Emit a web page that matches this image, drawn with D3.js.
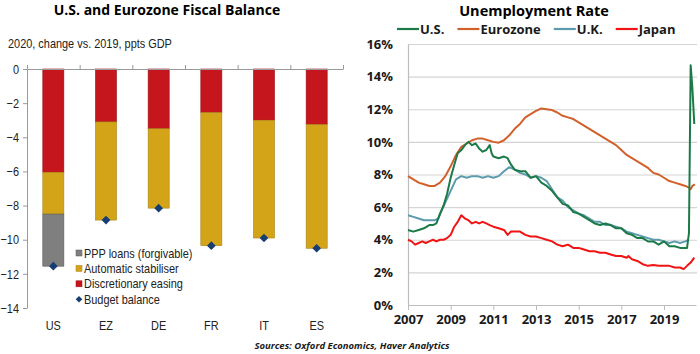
<!DOCTYPE html>
<html>
<head>
<meta charset="utf-8">
<script src="https://cdn.jsdelivr.net/npm/d3@7"></script>
<style>
  body { margin: 0; background: #fff; }
  svg { display: block; }
</style>
</head>
<body>
<svg id="chart" width="700" height="354"></svg>
<script>
// left panel data (ppts GDP, 2020 vs 2019)
const countries = ['US', 'EZ', 'DE', 'FR', 'IT', 'ES'];
const discretionary = [6.05, 3.1, 3.5, 2.55, 3.0, 3.25];
const stabiliser = [2.45, 5.75, 4.65, 7.8, 6.9, 7.25];
const pppLoans = [3.05, 0, 0, 0, 0, 0];
const budgetBalance = [-11.55, -8.85, -8.15, -10.35, -9.9, -10.5];
const leftTicks = [0, -2, -4, -6, -8, -10, -12, -14];

// right panel data: [year, rate %]
const usRate = [[2007.0,4.6],[2007.25,4.5],[2007.5,4.6],[2007.75,4.7],[2008.0,4.9],[2008.17,4.9],[2008.33,5.0],
  [2008.5,5.6],[2008.67,6.1],[2008.83,6.8],[2009.0,7.8],[2009.17,8.6],[2009.33,9.3],[2009.5,9.5],[2009.67,9.8],
  [2009.83,10.0],[2010.0,9.8],[2010.17,9.9],[2010.33,9.6],[2010.5,9.4],[2010.67,9.5],[2010.83,9.8],[2010.92,9.3],
  [2011.0,9.1],[2011.25,9.0],[2011.5,9.1],[2011.67,9.0],[2011.83,8.6],[2012.0,8.3],[2012.25,8.2],[2012.5,8.2],
  [2012.75,7.8],[2013.0,7.9],[2013.25,7.5],[2013.5,7.3],[2013.75,7.0],[2014.0,6.6],[2014.25,6.2],[2014.5,6.1],
  [2014.75,5.7],[2015.0,5.6],[2015.25,5.4],[2015.5,5.2],[2015.75,5.0],[2016.0,4.9],[2016.25,5.0],[2016.5,4.9],
  [2016.75,4.7],[2017.0,4.7],[2017.25,4.4],[2017.5,4.3],[2017.75,4.1],[2018.0,4.1],[2018.25,3.9],[2018.5,3.9],
  [2018.75,3.7],[2019.0,3.9],[2019.25,3.6],[2019.5,3.6],[2019.75,3.5],[2020.0,3.5],[2020.08,3.5],[2020.17,4.4],
  [2020.25,14.7],[2020.33,13.3],[2020.42,11.1]];
const ezRate = [[2007.0,7.9],[2007.25,7.7],[2007.5,7.5],[2007.75,7.4],[2008.0,7.3],[2008.25,7.3],[2008.5,7.5],
  [2008.75,7.9],[2009.0,8.5],[2009.25,9.2],[2009.5,9.7],[2009.75,9.9],[2010.0,10.1],[2010.25,10.2],[2010.5,10.2],
  [2010.75,10.1],[2011.0,10.0],[2011.25,9.95],[2011.5,10.1],[2011.75,10.4],[2012.0,10.8],[2012.25,11.1],
  [2012.5,11.5],[2012.75,11.7],[2013.0,11.9],[2013.25,12.05],[2013.5,12.0],[2013.75,11.95],[2014.0,11.8],
  [2014.25,11.6],[2014.5,11.5],[2014.75,11.4],[2015.0,11.2],[2015.25,11.0],[2015.5,10.8],[2015.75,10.6],
  [2016.0,10.4],[2016.25,10.2],[2016.5,10.0],[2016.75,9.8],[2017.0,9.5],[2017.25,9.2],[2017.5,9.0],[2017.75,8.8],
  [2018.0,8.6],[2018.25,8.4],[2018.5,8.1],[2018.75,8.0],[2019.0,7.8],[2019.25,7.6],[2019.5,7.5],[2019.75,7.4],
  [2020.0,7.3],[2020.17,7.2],[2020.25,7.1],[2020.33,7.3],[2020.45,7.4]];
const ukRate = [[2007.0,5.5],[2007.25,5.4],[2007.5,5.3],[2007.75,5.2],[2008.0,5.2],[2008.25,5.2],[2008.42,5.3],
  [2008.58,5.8],[2008.75,6.3],[2009.0,7.0],[2009.25,7.7],[2009.5,7.9],[2009.75,7.8],[2010.0,7.9],[2010.25,7.9],
  [2010.5,7.8],[2010.75,7.9],[2011.0,7.8],[2011.25,7.9],[2011.5,8.2],[2011.75,8.45],[2012.0,8.3],[2012.25,8.1],
  [2012.5,8.0],[2012.75,7.8],[2013.0,7.9],[2013.25,7.8],[2013.5,7.6],[2013.75,7.1],[2014.0,6.6],[2014.25,6.4],
  [2014.5,6.0],[2014.75,5.8],[2015.0,5.6],[2015.25,5.5],[2015.5,5.3],[2015.75,5.1],[2016.0,5.1],[2016.25,4.9],
  [2016.5,4.9],[2016.75,4.8],[2017.0,4.7],[2017.25,4.5],[2017.5,4.4],[2017.75,4.3],[2018.0,4.2],[2018.25,4.1],
  [2018.5,4.0],[2018.75,4.0],[2019.0,3.9],[2019.25,3.8],[2019.5,3.9],[2019.75,3.8],[2020.0,3.9],[2020.17,4.0]];
const jpRate = [[2007.0,4.0],[2007.17,3.9],[2007.33,3.7],[2007.5,3.8],[2007.67,3.9],[2007.83,3.8],[2008.0,3.9],
  [2008.17,4.0],[2008.33,3.9],[2008.5,4.0],[2008.67,4.0],[2008.83,4.1],[2009.0,4.3],[2009.17,4.8],[2009.33,5.1],
  [2009.5,5.5],[2009.67,5.3],[2009.83,5.2],[2010.0,5.0],[2010.17,5.1],[2010.33,5.0],[2010.5,5.1],[2010.67,5.0],
  [2010.83,4.9],[2011.0,4.8],[2011.25,4.7],[2011.5,4.6],[2011.67,4.3],[2011.83,4.5],[2012.0,4.5],[2012.25,4.5],
  [2012.5,4.3],[2012.75,4.2],[2013.0,4.2],[2013.25,4.1],[2013.5,4.0],[2013.75,3.9],[2014.0,3.7],[2014.25,3.6],
  [2014.5,3.7],[2014.75,3.5],[2015.0,3.5],[2015.25,3.4],[2015.5,3.3],[2015.75,3.3],[2016.0,3.2],[2016.25,3.2],
  [2016.5,3.1],[2016.75,3.0],[2017.0,3.0],[2017.25,2.9],[2017.33,3.0],[2017.5,2.8],[2017.75,2.7],[2018.0,2.5],
  [2018.25,2.4],[2018.5,2.45],[2018.75,2.4],[2019.0,2.4],[2019.25,2.4],[2019.5,2.3],[2019.75,2.3],[2019.92,2.2],
  [2020.08,2.4],[2020.25,2.6],[2020.42,2.9]];
const rightYTicks = [0, 2, 4, 6, 8, 10, 12, 14, 16];
const rightXTicks = [2007, 2009, 2011, 2013, 2015, 2017, 2019];

const svg = d3.select('#chart');
const leftFont = '"Liberation Sans", Arial, sans-serif';
const boldFont = '"Open Sans", "DejaVu Sans", sans-serif';

// squeeze Arial-like text so it looks like the narrow face in the original
function condense(sel, k) {
  sel.each(function() {
    const w = this.getComputedTextLength();
    d3.select(this).attr('textLength', w * k).attr('lengthAdjust', 'spacingAndGlyphs');
  });
}

// ---------- left: fiscal balance ----------
svg.append('text')
  .attr('x', 167).attr('y', 15)
  .attr('text-anchor', 'middle')
  .style('font-family', boldFont).style('font-weight', 700).style('font-size', '14px')
  .text('U.S. and Eurozone Fiscal Balance');

svg.append('text')
  .attr('x', 8).attr('y', 48)
  .style('font-family', leftFont).style('font-size', '13px').style('fill', '#222')
  .text('2020, change vs. 2019, ppts GDP')
  .call(condense, 0.84);

const yL = d3.scaleLinear().domain([-14, 0]).range([308, 69]);
const xL = d3.scaleBand().domain(countries).range([27, 343]).paddingInner(0.6).paddingOuter(0.3);

const rows = countries.map((c, i) => ({
  country: c, disc: -discretionary[i], auto: -stabiliser[i], ppp: -pppLoans[i]
}));
const keys = ['disc', 'auto', 'ppp'];
const colours = { disc: '#c4161c', auto: '#d4a418', ppp: '#7f7f7f' };
const strokes = { disc: '#9c1218', auto: '#a8841a', ppp: '#5a5a5a' };
const stacked = d3.stack().keys(keys).offset(d3.stackOffsetDiverging)(rows);

const left = svg.append('g');
left.selectAll('g.layer')
  .data(stacked)
  .join('g')
    .attr('class', 'layer')
    .attr('fill', d => colours[d.key])
    .attr('stroke', d => strokes[d.key])
    .attr('stroke-width', 0.6)
  .selectAll('rect')
  .data(d => d.filter(s => s[0] !== s[1]))
  .join('rect')
    .attr('x', d => xL(d.data.country))
    .attr('width', xL.bandwidth())
    .attr('y', d => yL(Math.max(d[0], d[1])))
    .attr('height', d => yL(Math.min(d[0], d[1])) - yL(Math.max(d[0], d[1])));

// y axis
const yAxisL = left.append('g')
  .attr('transform', 'translate(27,0)')
  .call(d3.axisLeft(yL).tickValues(leftTicks).tickSize(4).tickSizeOuter(0).tickPadding(4));
yAxisL.select('.domain').attr('stroke', '#999');
yAxisL.selectAll('.tick line').attr('stroke', '#999');
yAxisL.selectAll('text').style('font-family', leftFont).style('font-size', '13px').attr('fill', '#222')
  .call(condense, 0.84);

// zero line with band separators
const sep = d3.scaleLinear().domain([0, countries.length]).range([27, 343]);
const zeroAxis = left.append('g')
  .attr('transform', `translate(0,${yL(0)})`)
  .call(d3.axisTop(sep).tickValues(d3.range(countries.length + 1)).tickFormat('').tickSize(4).tickSizeOuter(0));
zeroAxis.select('.domain').attr('stroke', '#999');
zeroAxis.selectAll('.tick line').attr('stroke', '#999');

// category labels
left.selectAll('text.cat')
  .data(countries)
  .join('text')
    .attr('class', 'cat')
    .attr('x', d => xL(d) + xL.bandwidth() / 2)
    .attr('y', 330)
    .attr('text-anchor', 'middle')
    .style('font-family', leftFont).style('font-size', '13px').style('fill', '#222')
    .text(d => d)
    .call(condense, 0.84);

// budget balance diamonds (a square turned 45 degrees)
left.selectAll('path.bb')
  .data(budgetBalance)
  .join('path')
    .attr('class', 'bb')
    .attr('d', d3.symbol(d3.symbolSquare, 38))
    .attr('transform', (d, i) => `translate(${xL(countries[i]) + xL.bandwidth() / 2},${yL(d)}) rotate(45)`)
    .attr('fill', '#173e72');

// legend
const legendL = [
  { label: 'PPP loans (forgivable)', type: 'ppp' },
  { label: 'Automatic stabiliser', type: 'auto' },
  { label: 'Discretionary easing', type: 'disc' },
  { label: 'Budget balance', type: 'bb' }
];
const lg = left.append('g').attr('transform', 'translate(79,253)');
legendL.forEach((d, i) => {
  const row = lg.append('g').attr('transform', `translate(0,${i * 15.4})`);
  if (d.type === 'bb') {
    row.append('path').attr('d', d3.symbol(d3.symbolSquare, 22)).attr('transform', 'rotate(45)').attr('fill', '#173e72');
  } else {
    row.append('rect').attr('x', -3).attr('y', -3).attr('width', 6).attr('height', 6)
      .attr('fill', colours[d.type]).attr('stroke', strokes[d.type]).attr('stroke-width', 0.5);
  }
  row.append('text').attr('x', 5).attr('y', 4.5)
    .style('font-family', leftFont).style('font-size', '13px').style('fill', '#222')
    .text(d.label)
    .call(condense, 0.84);
});

// ---------- right: unemployment ----------
const xR = d3.scaleLinear().domain([2007, 2020.5]).range([408, 696]);
const yR = d3.scaleLinear().domain([0, 16]).range([305, 44]);
const right = svg.append('g');

right.append('text')
  .attr('x', 534).attr('y', 16)
  .attr('text-anchor', 'middle')
  .style('font-family', boldFont).style('font-weight', 700).style('font-size', '14.5px')
  .text('Unemployment Rate');

// grid
right.append('g')
  .attr('transform', 'translate(408,0)')
  .call(d3.axisRight(yR).tickValues(rightYTicks.filter(v => v > 0)).tickSize(289).tickFormat(''))
  .call(g => g.select('.domain').remove())
  .call(g => g.selectAll('.tick line').attr('stroke', '#d4d4d4').attr('stroke-width', 1.2));

const yAxisR = right.append('g')
  .attr('transform', 'translate(408,0)')
  .call(d3.axisLeft(yR).tickValues(rightYTicks).tickSize(0).tickPadding(15).tickFormat(d => d + '%'));
yAxisR.select('.domain').attr('stroke', '#bdbdbd').attr('stroke-width', 1.2);
yAxisR.selectAll('text').style('font-family', boldFont).style('font-weight', 700).style('font-size', '13px').attr('fill', '#1a1a1a');

const xAxisR = right.append('g')
  .attr('transform', `translate(0,${yR(0)})`)
  .call(d3.axisBottom(xR).tickValues(rightXTicks).tickSize(5).tickSizeOuter(0).tickPadding(5).tickFormat(d3.format('d')));
xAxisR.select('.domain').attr('stroke', '#bdbdbd').attr('stroke-width', 1.2);
xAxisR.selectAll('.tick line').attr('stroke', '#bdbdbd');
xAxisR.selectAll('text').style('font-family', boldFont).style('font-weight', 700).style('font-size', '13px').attr('fill', '#1a1a1a');

const line = d3.line().x(d => xR(d[0])).y(d => yR(d[1]));
const series = [
  { name: 'U.S.', data: usRate, colour: '#1b7a48' },
  { name: 'Eurozone', data: ezRate, colour: '#d2602a' },
  { name: 'U.K.', data: ukRate, colour: '#5b9bab' },
  { name: 'Japan', data: jpRate, colour: '#f01414' }
];
// draw order: Japan, Eurozone, U.K., U.S. on top
[series[3], series[1], series[2], series[0]].forEach(s => {
  right.append('path')
    .datum(s.data)
    .attr('d', line)
    .attr('fill', 'none')
    .attr('stroke', s.colour)
    .attr('stroke-width', 2)
    .attr('stroke-linejoin', 'round');
});

// legend
let lx = 397;
series.forEach(s => {
  right.append('line')
    .attr('x1', lx).attr('x2', lx + 22).attr('y1', 29).attr('y2', 29)
    .attr('stroke', s.colour).attr('stroke-width', 2.2);
  const t = right.append('text')
    .attr('x', lx + 23).attr('y', 33.5)
    .style('font-family', boldFont).style('font-weight', 700).style('font-size', '13px').style('fill', '#1a1a1a')
    .text(s.name);
  lx += 23 + t.node().getComputedTextLength() + 13;
});

// source
svg.append('text')
  .attr('x', 352).attr('y', 349)
  .attr('text-anchor', 'middle')
  .style('font-family', boldFont).style('font-weight', 700).style('font-style', 'italic').style('font-size', '9.5px')
  .style('fill', '#1a1a1a')
  .text('Sources: Oxford Economics, Haver Analytics');
</script>
</body>
</html>
